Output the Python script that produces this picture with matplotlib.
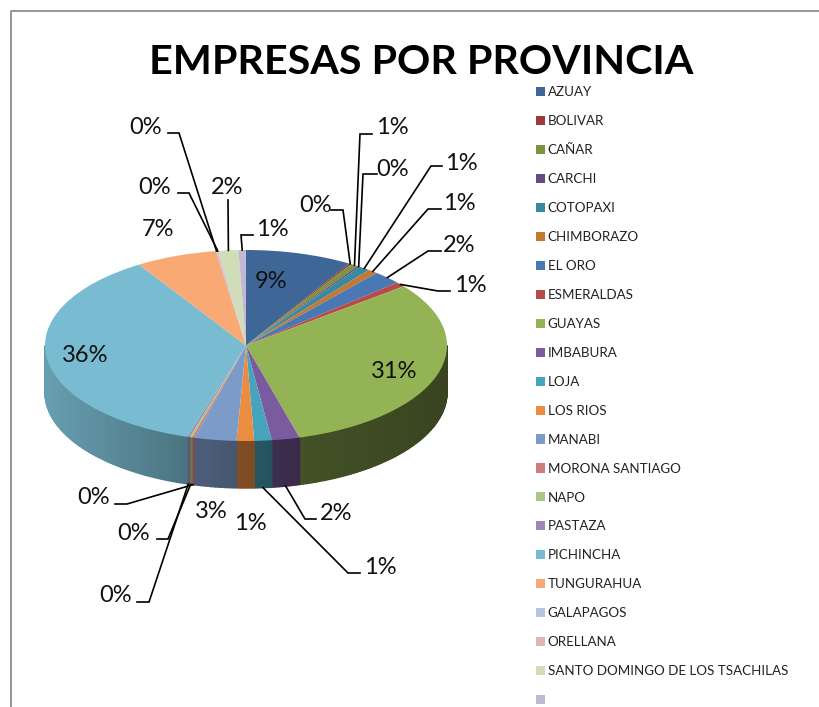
"""
file name: plot.py
    3D looking pie chart of companies per province
"""

#%% import modules

import numpy as np
import matplotlib
matplotlib.use('Agg')
import matplotlib.pyplot as plt
from matplotlib.transforms import Affine2D

#%% global plot settings

plt.rcParams['font.family'] = ['Lato', 'DejaVu Sans']

#%% data

title = 'EMPRESAS POR PROVINCIA'

provinces = ['AZUAY', 'BOLIVAR', 'CAÑAR', 'CARCHI', 'COTOPAXI', 'CHIMBORAZO',
             'EL ORO', 'ESMERALDAS', 'GUAYAS', 'IMBABURA', 'LOJA', 'LOS RIOS',
             'MANABI', 'MORONA SANTIAGO', 'NAPO', 'PASTAZA', 'PICHINCHA',
             'TUNGURAHUA', 'GALAPAGOS', 'ORELLANA',
             'SANTO DOMINGO DE LOS TSACHILAS', ' ']

shares = [8.6, 0.2, 0.6, 0.2, 0.9, 0.8, 2.3, 0.8, 31.45, 2.25, 1.4, 1.4,
          3.4, 0.2, 0.2, 0.2, 36.45, 6.55, 0.1, 0.1, 1.6, 0.6]

colors = ['#3E6797', '#9A3B3A', '#7C9440', '#664A82', '#39899F', '#C47831',
          '#4A78B4', '#B84A48', '#94B354', '#7B5B9F', '#46A5BC', '#EB8D40',
          '#7D9BC9', '#CB7E7C', '#AEC685', '#9B88B6', '#79BBD0', '#F9A974',
          '#B6C5DF', '#E0B6B5', '#CFDDB9', '#C3B8D3']

#%% layout (in pixels of the 820x707 picture)

width, height = 820, 707
cx, cy = 246, 345.5     # centre of the top face
rx, ry = 201, 95.5      # radii of the top face
depth = 47

# label centre for each slice
label_pos = [(271, 282), (316, 206), (392, 127), (393, 170), (461, 163),
             (459, 204), (459, 246), (470, 286), (394, 371), (336, 514),
             (380, 567), (250, 524), (211, 512), (94, 498), (134, 534),
             (116, 595), (85, 356), (158, 230), (146, 128), (155, 188),
             (227, 188), (272, 230)]

# leader lines: slice index -> points from the label side towards the slice
leaders = {1: [(331, 210), (343, 210)],
           2: [(372, 134), (360, 134)],
           3: [(377, 174), (363, 174)],
           4: [(442, 166), (431, 166)],
           5: [(441, 209), (428, 209)],
           6: [(441, 251), (428, 251)],
           7: [(450, 291), (438, 291)],
           9: [(316, 519), (305, 519)],
           10: [(360, 573), (348, 573)],
           13: [(115, 504), (127, 504)],
           14: [(157, 539), (168, 539)],
           15: [(137, 602), (149, 602)],
           18: [(168, 133), (179, 133)],
           19: [(178, 193), (189, 193)],
           20: [(228, 200)],
           21: [(253, 235), (241, 235)]}

#%% plot

fig = plt.figure(figsize=(width / 100, height / 100), dpi=100)
ax = fig.add_axes([0, 0, 1, 1])

# transform for things placed in picture pixels
px = Affine2D().scale(1 / width, -1 / height).translate(0, 1) + fig.transFigure

wedges, _ = ax.pie(shares, colors=colors, startangle=90, counterclock=False,
                   wedgeprops={'linewidth': 0})
for w in wedges:
    w.set_zorder(3)

# one unit of pie radius is rx pixels across and ry pixels down
ax.set_aspect('auto')
ax.set_xlim(-cx / rx, (width - cx) / rx)
ax.set_ylim((cy - height) / ry, cy / ry)
ax.axis('off')

# side wall, shaded from left to right
dz = depth / ry
edges = np.cumsum([0] + shares) / np.sum(shares) * 2 * np.pi
for i, color in enumerate(colors):
    t0, t1 = max(edges[i], np.pi / 2), min(edges[i + 1], 3 * np.pi / 2)
    if t1 <= t0:
        continue
    nstep = max(int(np.degrees(t1 - t0)), 1)
    steps = np.linspace(t0, t1, nstep + 1)
    rgb = np.array(matplotlib.colors.to_rgb(color))
    for a, b in zip(steps[:-1], steps[1:]):
        tt = np.linspace(a, b, 4)
        x = np.sin(tt)
        y = np.cos(tt)
        shade = np.interp(x.mean(), [-1, -0.3, 0, 0.3, 1],
                          [0.85, 0.62, 0.54, 0.45, 0.38])
        ax.fill(np.r_[x, x[::-1]], np.r_[y, y[::-1] - dz],
                color=rgb * shade, linewidth=1.0, zorder=1)

# percent labels
for i, share in enumerate(shares):
    x, y = label_pos[i]
    ax.text(x, y, '%.0f%%' % (share / np.sum(shares) * 100), transform=px,
            fontsize=17, color='#111111', ha='center', va='center', zorder=5)

# leader lines end on the slice edge
for i, pts in leaders.items():
    mid = (edges[i] + edges[i + 1]) / 2
    tip_x = cx + rx * np.sin(mid)
    tip_y = cy - ry * np.cos(mid)
    if np.cos(mid) < 0:
        tip_y += depth
    xs = [p[0] for p in pts] + [tip_x]
    ys = [p[1] for p in pts] + [tip_y]
    ax.plot(xs, ys, transform=px, color='k', linewidth=1.2, zorder=4,
            solid_joinstyle='miter', clip_on=False)

# title
ax.text(421.5, 62, title, transform=px, fontsize=29.7, fontweight='bold',
        color='k', ha='center', va='center', zorder=5)

# legend
ax.legend(wedges, provinces, loc='upper left', bbox_to_anchor=(536, 86.5),
          bbox_transform=px, frameon=False, fontsize=9.6, ncol=1,
          handlelength=0.68, handleheight=0.68, handletextpad=0.2,
          labelspacing=1.27, borderpad=0, borderaxespad=0,
          labelcolor='#222222')

# chart frame, only left and top are inside the picture
ax.plot([11.5, 11.5, width], [height, 11, 11], transform=px, color='#8E8E8E',
        linewidth=1.3, zorder=6, clip_on=False)

fig.savefig('out.png', dpi=100)
